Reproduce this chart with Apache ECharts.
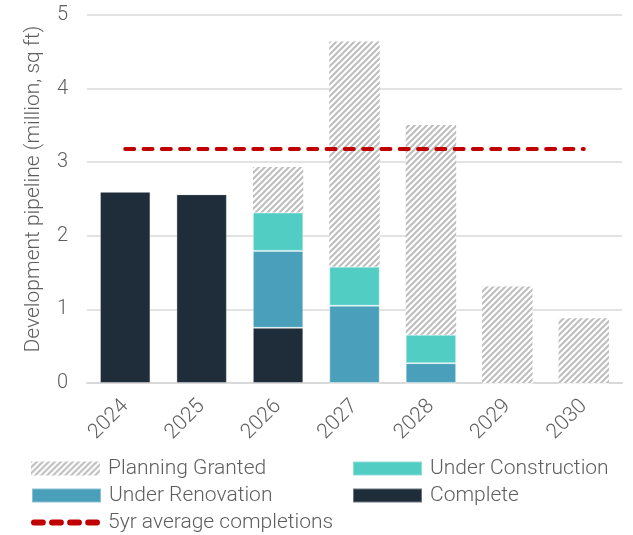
<!DOCTYPE html>
<html>
<head>
<meta charset="utf-8">
<script src="https://cdn.jsdelivr.net/npm/echarts@6/dist/echarts.min.js"></script>
<style>html,body{margin:0;padding:0;background:#fff}#c{width:633px;height:535px}</style>
</head>
<body>
<div id="c"></div>
<script>
const years = ['2024','2025','2026','2027','2028','2029','2030'];
const complete = [2.60, 2.565, 0.75, 0, 0, 0, 0];
const renovation = [0, 0, 1.045, 1.05, 0.27, 0, 0];
const construction = [0, 0, 0.52, 0.53, 0.385, 0, 0];
const planning = [0, 0, 0.62, 3.06, 2.85, 1.31, 0.88];
const avgCompletions = [3.18, 3.18, 3.18, 3.18, 3.18, 3.18, 3.18];

function hatch() {
  const c = document.createElement('canvas');
  c.width = 6; c.height = 6;
  const g = c.getContext('2d');
  g.fillStyle = '#ffffff';
  g.fillRect(0, 0, 6, 6);
  g.strokeStyle = '#bdbdbd';
  g.lineWidth = 2;
  g.beginPath();
  g.moveTo(-1, 7); g.lineTo(7, -1);
  g.moveTo(-4, 4); g.lineTo(4, -4);
  g.moveTo(2, 10); g.lineTo(10, 2);
  g.stroke();
  return c;
}
const font = 'Roboto';
const txt = '#5e5e5e';
const dashIcon = 'path://M3,0L12,0A3,3,0,0,1,12,6L3,6A3,3,0,0,1,3,0Z' +
  'M21.3,0L30.3,0A3,3,0,0,1,30.3,6L21.3,6A3,3,0,0,1,21.3,0Z' +
  'M39.6,0L48.6,0A3,3,0,0,1,48.6,6L39.6,6A3,3,0,0,1,39.6,0Z' +
  'M57.9,0L66.9,0A3,3,0,0,1,66.9,6L57.9,6A3,3,0,0,1,57.9,0Z';
function leg(left, top, name, extra) {
  return Object.assign({
    left: left, top: top, padding: 0, itemWidth: 69, itemHeight: 14, itemGap: 0, icon: 'rect',
    textStyle: { color: txt, fontSize: 21, fontWeight: 300, fontFamily: font, padding: [0,0,0,3] },
    data: [name]
  }, extra || {});
}
const chart = echarts.init(document.getElementById('c'));
chart.setOption({
  animation: false,
  textStyle: { fontFamily: font },
  grid: { left: 87, right: 11, top: 15, bottom: 152, containLabel: false },
  xAxis: {
    type: 'category', data: years,
    axisLine: { lineStyle: { color: '#d9d9d9', width: 2 } },
    axisTick: { show: false },
    axisLabel: { rotate: 45, color: txt, fontSize: 21, fontWeight: 300, margin: 20, fontFamily: font }
  },
  yAxis: {
    type: 'value', min: 0, max: 5, interval: 1,
    name: 'Development pipeline (million, sq ft)',
    nameLocation: 'middle', nameGap: 43,
    nameTextStyle: { color: txt, fontSize: 21, fontWeight: 300, fontFamily: font, padding: [0,0,0,20] },
    axisLine: { show: false }, axisTick: { show: false },
    splitLine: { lineStyle: { color: '#d9d9d9', width: 1.5 } },
    axisLabel: { color: txt, fontSize: 20, fontWeight: 300, margin: 19, fontFamily: font }
  },
  legend: [
    leg(31, 458, 'Planning Granted'),
    leg(352, 458, 'Under Construction'),
    leg(31, 485, 'Under Renovation'),
    leg(352, 485, 'Complete'),
    leg(31, 512, { name: '5yr average completions', icon: dashIcon, itemStyle: { color: '#c00000' } }, { itemHeight: 6 })
  ],
  series: [
    { name: 'Complete', type: 'bar', stack: 's', barWidth: '66%', data: complete,
      itemStyle: { color: '#1f2d3a', borderColor: 'rgba(255,255,255,0.35)', borderWidth: 1 } },
    { name: 'Under Renovation', type: 'bar', stack: 's', data: renovation,
      itemStyle: { color: '#4aa0bb', borderColor: 'rgba(255,255,255,0.35)', borderWidth: 1 } },
    { name: 'Under Construction', type: 'bar', stack: 's', data: construction,
      itemStyle: { color: '#52cdc4', borderColor: 'rgba(255,255,255,0.35)', borderWidth: 1 } },
    { name: 'Planning Granted', type: 'bar', stack: 's', data: planning,
      itemStyle: { color: { image: hatch(), repeat: 'repeat' } } },
    { name: '5yr average completions', type: 'line', data: avgCompletions, symbol: 'none', z: 5,
      lineStyle: { color: '#c00000', width: 4, type: [9, 9.3], cap: 'round' },
      itemStyle: { color: '#c00000' } }
  ]
});
</script>
</body>
</html>
